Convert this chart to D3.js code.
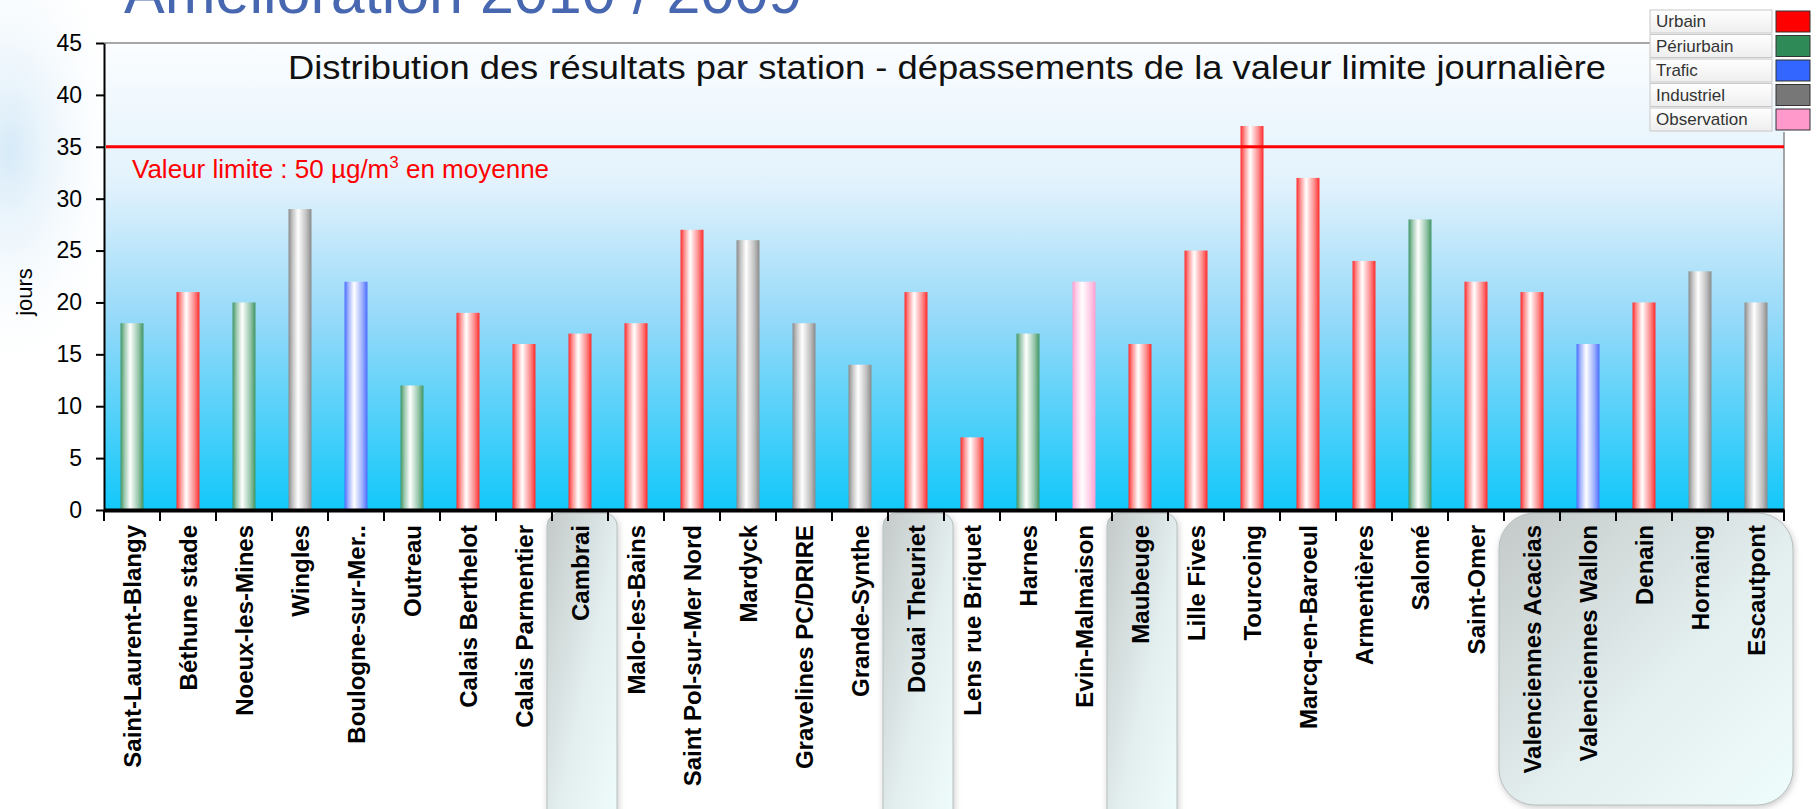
<!DOCTYPE html>
<html lang="fr">
<head>
<meta charset="UTF-8">
<title>Distribution des résultats par station</title>
<script src="https://d3js.org/d3.v7.min.js"></script>
<style>
    body {
        margin: 0;
        padding: 0;
        background: #fff;
        font-family: Arial, "Liberation Sans", sans-serif;
    }
    #chart { display: block; }
</style>
</head>
<body>
<svg id="chart" width="1818" height="809"></svg>
<script>
// stations (x categories), days over limit, and station type
var stations = ["Saint-Laurent-Blangy", "Béthune stade", "Noeux-les-Mines", "Wingles", "Boulogne-sur-Mer..",
    "Outreau", "Calais Berthelot", "Calais Parmentier", "Cambrai", "Malo-les-Bains",
    "Saint Pol-sur-Mer Nord", "Mardyck", "Gravelines PC/DRIRE", "Grande-Synthe", "Douai Theuriet",
    "Lens rue Briquet", "Harnes", "Evin-Malmaison", "Maubeuge", "Lille Fives",
    "Tourcoing", "Marcq-en-Baroeul", "Armentières", "Salomé", "Saint-Omer",
    "Valenciennes Acacias", "Valenciennes Wallon", "Denain", "Hornaing", "Escautpont"];
var days = [18, 21, 20, 29, 22, 12, 19, 16, 17, 18,
    27, 26, 18, 14, 21, 7, 17, 22, 16, 25,
    37, 32, 24, 28, 22, 21, 16, 20, 23, 20];
var stationTypes = ["Périurbain", "Urbain", "Périurbain", "Industriel", "Trafic",
    "Périurbain", "Urbain", "Urbain", "Urbain", "Urbain",
    "Urbain", "Industriel", "Industriel", "Industriel", "Urbain",
    "Urbain", "Périurbain", "Observation", "Urbain", "Urbain",
    "Urbain", "Urbain", "Urbain", "Périurbain", "Urbain",
    "Urbain", "Trafic", "Urbain", "Industriel", "Industriel"];

var typeNames = ["Urbain", "Périurbain", "Trafic", "Industriel", "Observation"];
var typeColors = ["#ff0000", "#2e8b57", "#3366ff", "#777777", "#ff99cc"];
var barColors = ["#ff2a2a", "#3f9563", "#4a6cff", "#8a8a8a", "#ff9fd0"];

var yTicks = [0, 5, 10, 15, 20, 25, 30, 35, 40, 45];
var limitValue = 35;

// highlighted groups of stations (first, last)
var highlights = [["Cambrai", "Cambrai"], ["Douai Theuriet", "Douai Theuriet"],
    ["Maubeuge", "Maubeuge"], ["Valenciennes Acacias", "Escautpont"]];

var svg = d3.select("#chart");
var plotLeft = 104, plotRight = 1784, plotTop = 43, plotBottom = 510;

var x = d3.scaleBand().domain(stations).range([plotLeft, plotRight]).paddingInner(0.59).paddingOuter(0.295);
var y = d3.scaleLinear().domain([0, 45]).range([plotBottom, plotTop]);
var gap = x.step() * x.paddingInner() / 2;

var defs = svg.append("defs");

// page glow on the left
var glow = defs.append("radialGradient").attr("id", "glow");
glow.append("stop").attr("offset", "0%").attr("stop-color", "#d6eaf8");
glow.append("stop").attr("offset", "100%").attr("stop-color", "#ffffff").attr("stop-opacity", 0);
svg.append("ellipse").attr("cx", 10).attr("cy", 150).attr("rx", 120).attr("ry", 240).attr("fill", "url(#glow)");

// plot background gradient
var bg = defs.append("linearGradient").attr("id", "plotBg").attr("x1", 0).attr("y1", 0).attr("x2", 0).attr("y2", 1);
[["0%", "#fbfdff"], ["30%", "#e2f2fc"], ["60%", "#93d9f9"], ["100%", "#12c8fa"]].forEach(function (s) {
    bg.append("stop").attr("offset", s[0]).attr("stop-color", s[1]);
});

// bar gradients
typeNames.forEach(function (t, i) {
    var g = defs.append("linearGradient").attr("id", "bar" + i).attr("x1", 0).attr("x2", 1).attr("y1", 0).attr("y2", 0);
    g.append("stop").attr("offset", "0%").attr("stop-color", barColors[i]);
    g.append("stop").attr("offset", "18%").attr("stop-color", d3.interpolateRgb(barColors[i], "#fff")(0.5));
    g.append("stop").attr("offset", "42%").attr("stop-color", "#ffffff");
    g.append("stop").attr("offset", "78%").attr("stop-color", d3.interpolateRgb(barColors[i], "#fff")(0.45));
    g.append("stop").attr("offset", "100%").attr("stop-color", barColors[i]);
});

// highlight box gradient + shadow
var hg = defs.append("linearGradient").attr("id", "hl").attr("x1", 0).attr("y1", 0).attr("x2", 1).attr("y2", 1);
hg.append("stop").attr("offset", "0%").attr("stop-color", "#c4c9c9");
hg.append("stop").attr("offset", "55%").attr("stop-color", "#e3eeee");
hg.append("stop").attr("offset", "100%").attr("stop-color", "#f0fdfd");
var sh = defs.append("filter").attr("id", "shadow").attr("x", "-20%").attr("y", "-10%").attr("width", "140%").attr("height", "130%");
sh.append("feDropShadow").attr("dx", 1).attr("dy", 2).attr("stdDeviation", 3).attr("flood-color", "#888").attr("flood-opacity", 0.45);

// legend row gradient
var lg = defs.append("linearGradient").attr("id", "legRow").attr("x1", 0).attr("y1", 0).attr("x2", 0).attr("y2", 1);
lg.append("stop").attr("offset", "0%").attr("stop-color", "#ffffff");
lg.append("stop").attr("offset", "100%").attr("stop-color", "#eeeeee");

// big slide title, cut at top
svg.append("text")
    .attr("x", 124).attr("y", 13)
    .attr("font-size", 61)
    .attr("fill", "#4767b1")
    .text("Amélioration 2010 / 2009");

// plot area
svg.append("rect")
    .attr("x", plotLeft).attr("y", plotTop)
    .attr("width", plotRight - plotLeft).attr("height", plotBottom - plotTop)
    .attr("fill", "url(#plotBg)");
svg.append("line").attr("x1", plotLeft).attr("x2", 1650).attr("y1", plotTop).attr("y2", plotTop)
    .attr("stroke", "#8a8a8a").attr("stroke-width", 1.5);
svg.append("line").attr("x1", plotRight).attr("x2", plotRight).attr("y1", 132).attr("y2", plotBottom)
    .attr("stroke", "#8a8a8a").attr("stroke-width", 1.5);

// highlight boxes behind labels
svg.append("g").selectAll("rect")
    .data(highlights)
    .join("rect")
    .attr("x", function (d) { return x(d[0]) - gap - 5; })
    .attr("y", plotBottom + 3)
    .attr("width", function (d) { return x(d[1]) + x.bandwidth() + gap + 9 - (x(d[0]) - gap - 5); })
    .attr("height", function (d) { return d[0] === d[1] ? 320 : 292; })
    .attr("rx", function (d) { return d[0] === d[1] ? 13 : 36; })
    .attr("fill", "url(#hl)")
    .attr("stroke", "#b8c0c0")
    .attr("stroke-width", 1)
    .attr("filter", "url(#shadow)");

// chart title
svg.append("text")
    .attr("x", 947).attr("y", 79)
    .attr("text-anchor", "middle")
    .attr("font-size", 33)
    .attr("textLength", 1318)
    .attr("lengthAdjust", "spacingAndGlyphs")
    .attr("fill", "#111")
    .text("Distribution des résultats par station - dépassements de la valeur limite journalière");

// bars
svg.append("g").selectAll("rect")
    .data(stations)
    .join("rect")
    .attr("x", function (d) { return x(d); })
    .attr("y", function (d, i) { return y(days[i]); })
    .attr("width", x.bandwidth())
    .attr("height", function (d, i) { return y(0) - y(days[i]); })
    .attr("fill", function (d, i) { return "url(#bar" + typeNames.indexOf(stationTypes[i]) + ")"; });

// limit line
svg.append("line")
    .attr("x1", plotLeft + 2).attr("x2", plotRight)
    .attr("y1", y(limitValue)).attr("y2", y(limitValue))
    .attr("stroke", "#ff0000").attr("stroke-width", 3);

var lim = svg.append("text")
    .attr("x", 132).attr("y", 178)
    .attr("font-size", 26)
    .attr("fill", "#ff0000");
lim.append("tspan").text("Valeur limite : 50 µg/m");
lim.append("tspan").attr("font-size", 17).attr("dy", -10).text("3");
lim.append("tspan").attr("dy", 10).text(" en moyenne");

// y axis
var yAxis = svg.append("g")
    .attr("transform", "translate(" + plotLeft + ",0)")
    .call(d3.axisLeft(y).tickValues(yTicks).tickSize(8).tickPadding(14).tickSizeOuter(0));
yAxis.select(".domain").attr("stroke", "#000").attr("stroke-width", 2);
yAxis.selectAll(".tick line").attr("stroke", "#000").attr("stroke-width", 2);
yAxis.selectAll(".tick text")
    .attr("font-size", 23)
    .attr("font-family", "Arial, 'Liberation Sans', sans-serif")
    .attr("fill", "#000");

svg.append("text")
    .attr("transform", "translate(32,292) rotate(-90)")
    .attr("text-anchor", "middle")
    .attr("font-size", 22)
    .attr("fill", "#000")
    .text("jours");

// x axis
var xAxis = svg.append("g")
    .attr("transform", "translate(0," + plotBottom + ")")
    .call(d3.axisBottom(x).tickSize(0).tickSizeOuter(0));
xAxis.select(".domain").attr("stroke", "#000").attr("stroke-width", 4);
xAxis.selectAll(".tick text")
    .attr("transform", "rotate(-90)")
    .attr("text-anchor", "end")
    .attr("x", -15)
    .attr("y", 0)
    .attr("dy", "0.36em")
    .attr("font-size", 24)
    .attr("font-weight", "bold")
    .attr("font-family", "Arial, 'Liberation Sans', sans-serif")
    .attr("fill", "#000");

var bounds = stations.map(function (d) { return x(d) - gap; }).concat([plotRight]);
svg.append("g").selectAll("line")
    .data(bounds)
    .join("line")
    .attr("x1", function (d) { return d; }).attr("x2", function (d) { return d; })
    .attr("y1", plotBottom).attr("y2", plotBottom + 11)
    .attr("stroke", "#000").attr("stroke-width", 2);

// legend
var leg = svg.append("g").attr("transform", "translate(1650,10)");
var rows = leg.selectAll("g").data(typeNames).join("g")
    .attr("transform", function (d, i) { return "translate(0," + (i * 24.5) + ")"; });
rows.append("rect")
    .attr("width", 122).attr("height", 23)
    .attr("fill", "url(#legRow)")
    .attr("stroke", "#c8c8c8");
rows.append("text")
    .attr("x", 6).attr("y", 17)
    .attr("font-size", 17)
    .attr("fill", "#333")
    .text(function (d) { return d; });
rows.append("rect")
    .attr("x", 126).attr("y", 1)
    .attr("width", 34).attr("height", 21)
    .attr("fill", function (d, i) { return typeColors[i]; })
    .attr("stroke", "#333").attr("stroke-width", 1);
</script>
</body>
</html>
